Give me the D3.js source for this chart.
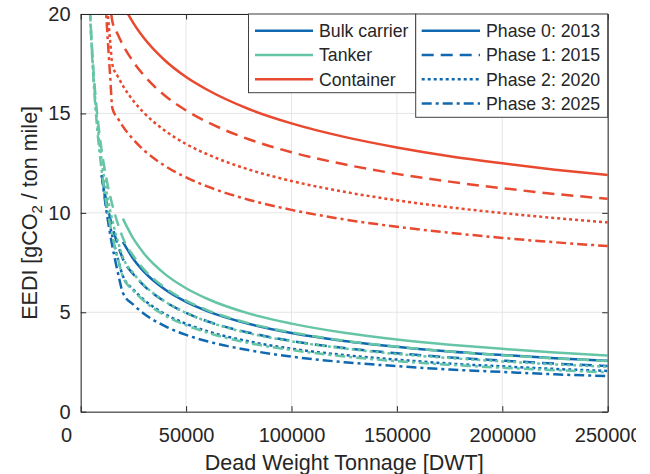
<!DOCTYPE html>
<html>
<head>
<meta charset="utf-8">
<script src="https://cdn.jsdelivr.net/npm/d3@7"></script>
<style>
  body { margin: 0; background: #fff; }
  text { font-family: "Liberation Sans", Arial, sans-serif; fill: #262626; }
</style>
</head>
<body>
<div id="chart"></div>
<script>
// ********************** Data **********************

var shipTypes = ['Bulk carrier', 'Tanker', 'Container'];
var phaseNames = ['Phase 0: 2013', 'Phase 1: 2015', 'Phase 2: 2020', 'Phase 3: 2025'];

var xTicks = [0, 50000, 100000, 150000, 200000, 250000];
var yTicks = [0, 5, 10, 15, 20];

// bulk carrier
var bulkDwt = [10000, 12000, 14000, 16000, 18000, 20000, 25000, 30000, 40000, 50000, 60000, 80000, 100000, 125000, 150000, 175000, 200000, 225000, 250000];
var bulkPhase0 = [null, null, null, null, null, 8.54, 7.68, 7.04, 6.14, 5.52, 5.06, 4.41, 3.96, 3.56, 3.27, 3.03, 2.85, 2.69, 2.56];
var bulkPhase1 = [11.89, 10.68, 9.72, 8.93, 8.26, 7.69, 6.91, 6.34, 5.53, 4.97, 4.55, 3.97, 3.56, 3.20, 2.94, 2.73, 2.57, 2.42, 2.30];
var bulkPhase2 = [11.89, 10.46, 9.31, 8.36, 7.54, 6.83, 6.14, 5.63, 4.91, 4.42, 4.05, 3.53, 3.17, 2.85, 2.62, 2.42, 2.28, 2.15, 2.05];
var bulkPhase3 = [11.89, 10.25, 8.91, 7.79, 6.82, 5.98, 5.38, 4.93, 4.30, 3.86, 3.54, 3.09, 2.77, 2.49, 2.29, 2.12, 2.00, 1.88, 1.79];

// tanker
var tankerDwt = [4000, 4500, 5000, 6000, 7000, 8000, 9000, 10000, 12000, 14000, 16000, 18000, 20000, 25000, 30000, 40000, 50000, 60000, 80000, 100000, 125000, 150000, 175000, 200000, 225000, 250000];
var tankerPhase0 = [null, null, null, null, null, null, null, null, null, null, null, null, 9.71, 8.70, 7.96, 6.92, 6.21, 5.68, 4.93, 4.43, 3.97, 3.63, 3.37, 3.16, 2.98, 2.83];
var tankerPhase1 = [21.29, 20.04, 18.97, 17.25, 15.90, 14.80, 13.88, 13.10, 11.83, 10.83, 10.01, 9.33, 8.74, 7.83, 7.16, 6.23, 5.59, 5.11, 4.44, 3.99, 3.57, 3.27, 3.03, 2.84, 2.68, 2.55];
var tankerPhase2 = [21.29, 19.97, 18.85, 17.03, 15.59, 14.42, 13.43, 12.59, 11.21, 10.11, 9.20, 8.43, 7.77, 6.96, 6.37, 5.54, 4.97, 4.54, 3.94, 3.54, 3.18, 2.90, 2.70, 2.53, 2.38, 2.26];
var tankerPhase3 = [21.29, 19.91, 18.73, 16.82, 15.29, 14.04, 12.99, 12.08, 10.58, 9.38, 8.39, 7.54, 6.80, 6.09, 5.57, 4.84, 4.35, 3.98, 3.45, 3.10, 2.78, 2.54, 2.36, 2.21, 2.09, 1.98];

// container
var containerDwt = [10000, 11000, 12000, 13000, 14000, 15000, 17500, 20000, 25000, 30000, 40000, 50000, 60000, 80000, 100000, 125000, 150000, 175000, 200000, 225000, 250000];
var containerPhase0 = [null, null, null, null, null, 21.82, 21.10, 20.50, 19.54, 18.79, 17.66, 16.83, 16.19, 15.21, 14.50, 13.82, 13.29, 12.85, 12.49, 12.17, 11.90];
var containerPhase1 = [23.81, 22.85, 21.97, 21.15, 20.37, 19.64, 18.99, 18.45, 17.59, 16.91, 15.89, 15.15, 14.57, 13.69, 13.05, 12.44, 11.96, 11.57, 11.24, 10.95, 10.71];
var containerPhase2 = [23.81, 22.39, 21.06, 19.80, 18.60, 17.46, 16.88, 16.40, 15.63, 15.03, 14.13, 13.46, 12.95, 12.17, 11.60, 11.06, 10.63, 10.28, 9.99, 9.74, 9.52];
var containerPhase3 = [23.81, 21.92, 20.14, 18.45, 16.83, 15.27, 14.77, 14.35, 13.68, 13.15, 12.36, 11.78, 11.33, 10.65, 10.15, 9.67, 9.30, 9.00, 8.74, 8.52, 8.33];

// ************************** Styles **************************

var ship_colors = ['#1069b0', '#66c5a7', '#e8492f'];
var phase_dash = ['none', '12,7', '3,3', '10,4,3,4'];

var series = [
  {ship: 0, dwt: bulkDwt, phases: [bulkPhase0, bulkPhase1, bulkPhase2, bulkPhase3]},
  {ship: 1, dwt: tankerDwt, phases: [tankerPhase0, tankerPhase1, tankerPhase2, tankerPhase3]},
  {ship: 2, dwt: containerDwt, phases: [containerPhase0, containerPhase1, containerPhase2, containerPhase3]}
];

// Create SVG element
var chart_width = 650;
var chart_height = 474;
var plot_left = 80.7, plot_right = 607.7, plot_top = 14, plot_bottom = 411.7;
var tick_len = 5.5;

var svg = d3.select('#chart')
  .append('svg')
  .attr('width', chart_width)
  .attr('height', chart_height);

// scales
var x_scale = d3.scaleLinear()
  .domain([0, 250000])
  .range([plot_left, plot_right]);

var y_scale = d3.scaleLinear()
  .domain([0, 20])
  .range([plot_bottom, plot_top]);

// grid
svg.append('g')
  .selectAll('line')
  .data(xTicks)
  .enter()
  .append('line')
  .attr('x1', function(d) { return x_scale(d); })
  .attr('x2', function(d) { return x_scale(d); })
  .attr('y1', plot_top)
  .attr('y2', plot_bottom)
  .attr('stroke', '#e6e6e6')
  .attr('stroke-width', 1);

svg.append('g')
  .selectAll('line')
  .data(yTicks)
  .enter()
  .append('line')
  .attr('x1', plot_left)
  .attr('x2', plot_right)
  .attr('y1', function(d) { return y_scale(d); })
  .attr('y2', function(d) { return y_scale(d); })
  .attr('stroke', '#e6e6e6')
  .attr('stroke-width', 1);

// clip the curves to the axes box
svg.append('clipPath')
  .attr('id', 'plot-clip')
  .append('rect')
  .attr('x', plot_left)
  .attr('y', plot_top)
  .attr('width', plot_right - plot_left)
  .attr('height', plot_bottom - plot_top);

var line = d3.line()
  .defined(function(d) { return d.y != null; })
  .x(function(d) { return x_scale(d.x); })
  .y(function(d) { return y_scale(d.y); })
  .curve(d3.curveMonotoneX);

var curves = svg.append('g').attr('clip-path', 'url(#plot-clip)');

series.forEach(function(s) {
  s.phases.forEach(function(vals, p) {
    var pts = s.dwt.map(function(x, i) { return {x: x, y: vals[i]}; });
    curves.append('path')
      .datum(pts)
      .attr('d', line)
      .attr('fill', 'none')
      .attr('stroke', ship_colors[s.ship])
      .attr('stroke-width', 2.5)
      .attr('stroke-dasharray', phase_dash[p]);
  });
});

// axes (ticks pointing inward, MATLAB style box)
var x_axis = svg.append('g')
  .attr('transform', 'translate(0,' + plot_bottom + ')')
  .call(d3.axisBottom(x_scale)
    .tickValues(xTicks)
    .tickFormat(d3.format('d'))
    .tickSizeInner(-tick_len)
    .tickSizeOuter(0)
    .tickPadding(15.8));

svg.append('g')
  .attr('transform', 'translate(0,' + plot_top + ')')
  .call(d3.axisTop(x_scale)
    .tickValues(xTicks)
    .tickFormat('')
    .tickSizeInner(-tick_len)
    .tickSizeOuter(0));

svg.append('g')
  .attr('transform', 'translate(' + plot_left + ',0)')
  .call(d3.axisLeft(y_scale)
    .tickValues(yTicks)
    .tickSizeInner(-tick_len)
    .tickSizeOuter(0)
    .tickPadding(10.2));

svg.append('g')
  .attr('transform', 'translate(' + plot_right + ',0)')
  .call(d3.axisRight(y_scale)
    .tickValues(yTicks)
    .tickFormat('')
    .tickSizeInner(-tick_len)
    .tickSizeOuter(0));

svg.selectAll('.domain, .tick line')
  .attr('stroke', '#262626');

svg.selectAll('.tick text')
  .attr('font-size', '20px')
  .attr('fill', '#262626')
  .style('font-family', '"Liberation Sans", Arial, sans-serif');

// the "0" under the x axis sits left of the origin in the reference
x_axis.selectAll('.tick text')
  .filter(function(d) { return d === 0; })
  .attr('dx', -14.7);

// last label is cut at the figure edge
svg.append('clipPath')
  .attr('id', 'xlab-clip')
  .append('rect')
  .attr('x', -100)
  .attr('y', -20)
  .attr('width', 736)
  .attr('height', 80);
x_axis.attr('clip-path', 'url(#xlab-clip)');

// axis labels
svg.append('text')
  .attr('x', (plot_left + plot_right) / 2)
  .attr('y', 470)
  .attr('text-anchor', 'middle')
  .attr('font-size', '21.5px')
  .text('Dead Weight Tonnage [DWT]');

var ylab = svg.append('text')
  .attr('transform', 'translate(37,' + ((plot_top + plot_bottom) / 2) + ') rotate(-90)')
  .attr('text-anchor', 'middle')
  .attr('font-size', '21.5px');
ylab.append('tspan').text('EEDI [gCO');
ylab.append('tspan').attr('font-size', '15px').attr('dy', 5).text('2');
ylab.append('tspan').attr('dy', -5).text(' / ton mile]');

// ************************** Legends **************************

var row_gap = 24.3;

// ship type legend
var leg1 = svg.append('g');
leg1.append('rect')
  .attr('x', 248.5)
  .attr('y', plot_top)
  .attr('width', 415.7 - 248.5)
  .attr('height', 92.7 - plot_top)
  .attr('fill', '#fff')
  .attr('stroke', '#404040')
  .attr('stroke-width', 1);

leg1.selectAll('line')
  .data(shipTypes)
  .enter()
  .append('line')
  .attr('x1', 255)
  .attr('x2', 313)
  .attr('y1', function(d, i) { return 30.7 + i * row_gap; })
  .attr('y2', function(d, i) { return 30.7 + i * row_gap; })
  .attr('stroke', function(d, i) { return ship_colors[i]; })
  .attr('stroke-width', 2.5);

leg1.selectAll('text')
  .data(shipTypes)
  .enter()
  .append('text')
  .attr('x', 319)
  .attr('y', function(d, i) { return 30.7 + i * row_gap + 6.3; })
  .attr('font-size', '17.7px')
  .text(function(d) { return d; });

// phase legend
var leg2 = svg.append('g');
leg2.append('rect')
  .attr('x', 415.7)
  .attr('y', plot_top)
  .attr('width', plot_right - 415.7)
  .attr('height', 117.3 - plot_top)
  .attr('fill', '#fff')
  .attr('stroke', '#404040')
  .attr('stroke-width', 1);

leg2.selectAll('line')
  .data(phaseNames)
  .enter()
  .append('line')
  .attr('x1', 421.7)
  .attr('x2', 480)
  .attr('y1', function(d, i) { return 30.7 + i * row_gap; })
  .attr('y2', function(d, i) { return 30.7 + i * row_gap; })
  .attr('stroke', ship_colors[0])
  .attr('stroke-width', 2.5)
  .attr('stroke-dasharray', function(d, i) { return phase_dash[i]; });

leg2.selectAll('text')
  .data(phaseNames)
  .enter()
  .append('text')
  .attr('x', 486)
  .attr('y', function(d, i) { return 30.7 + i * row_gap + 6.3; })
  .attr('font-size', '17.7px')
  .text(function(d) { return d; });
</script>
</body>
</html>
